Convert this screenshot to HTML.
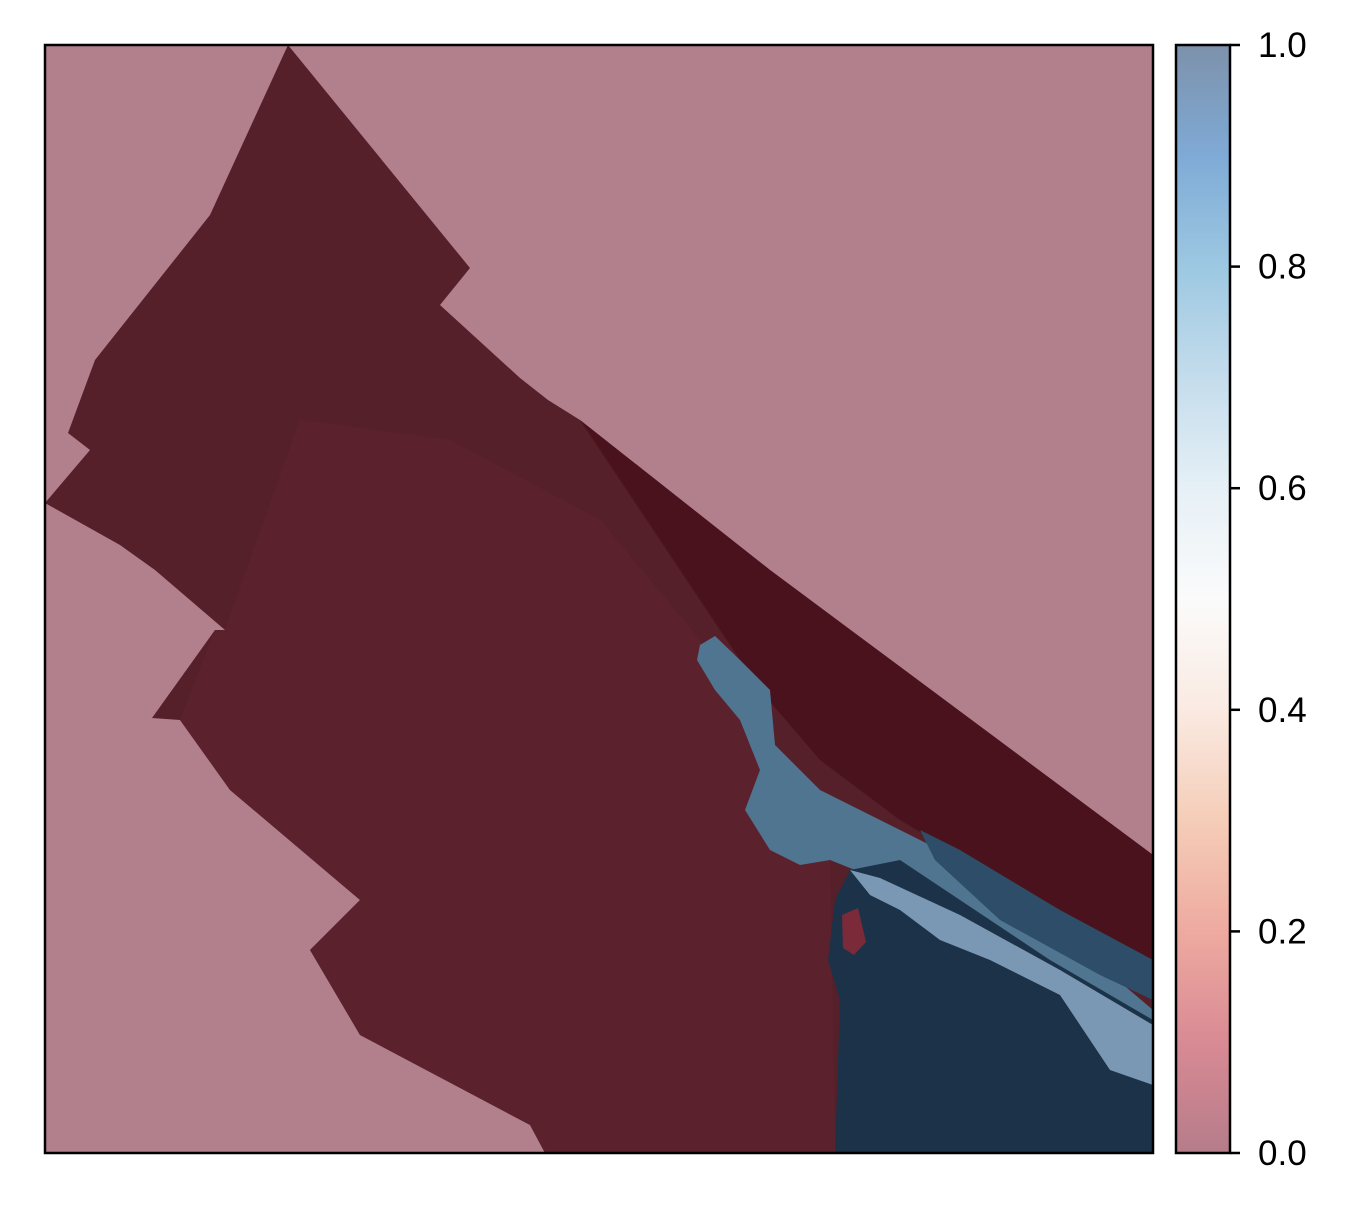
<!DOCTYPE html>
<html><head><meta charset="utf-8"><style>
body{margin:0;background:#fff;}
svg text{font-family:"Liberation Sans",sans-serif;font-size:35px;fill:#000;}
</style></head><body>
<svg width="1356" height="1208" viewBox="0 0 1356 1208">
<defs>
<linearGradient id="cb" x1="0" y1="1" x2="0" y2="0">
<stop offset="0" stop-color="#b67c8a"/>
<stop offset="0.1" stop-color="#d98a94"/>
<stop offset="0.2" stop-color="#eeaaa0"/>
<stop offset="0.3" stop-color="#f5cdb8"/>
<stop offset="0.4" stop-color="#faeae2"/>
<stop offset="0.5" stop-color="#fbfbfb"/>
<stop offset="0.6" stop-color="#e6f0f6"/>
<stop offset="0.7" stop-color="#c4dcec"/>
<stop offset="0.8" stop-color="#9cc8e2"/>
<stop offset="0.9" stop-color="#7faad6"/>
<stop offset="1" stop-color="#7d91ab"/>
</linearGradient>
<clipPath id="plotclip"><rect x="45" y="45" width="1108" height="1108"/></clipPath>
</defs>
<g clip-path="url(#plotclip)">
<rect x="45" y="45" width="1108" height="1108" fill="#b27f8c"/>
<polygon fill="#56202b" points="45,503 90,450 68,433 95,360 210,215 288,45 470,268 440,305 520,378 548,400 580,420 770,570 1153,855 1153,1153 545,1153 530,1125 360,1035 310,950 360,900 230,790 180,720 152,718 215,630 225,630 155,570 120,545"/>
<polygon fill="#5e232f" opacity="0.7" points="300,420 450,440 600,520 700,640 760,760 830,860 835,1153 545,1153 530,1125 360,1035 310,950 360,900 230,790 180,720 215,630 225,630"/>
<polygon fill="#4a121c" points="580,420 770,570 1153,855 1153,960 1000,880 900,820 820,760 760,690 700,600"/>
<polygon fill="#4f7591" points="700,645 715,636 740,660 770,690 775,745 820,790 900,830 1000,880 1153,1010 1153,1035 1100,1010 1000,960 880,880 830,860 800,865 770,850 745,810 760,770 740,720 715,690 697,660"/>
<polygon fill="#2d4d68" points="920,830 960,850 1060,910 1153,960 1153,1000 1100,975 1000,920 935,860"/>
<polygon fill="#1c3249" points="835,1153 840,1000 828,960 835,900 850,870 900,860 960,900 1050,960 1153,1020 1153,1153"/>
<polygon fill="#7a98b3" points="850,870 880,878 960,915 1060,970 1153,1025 1153,1085 1110,1070 1060,995 990,960 940,940 900,910 870,895"/>
<polygon fill="#7a2a38" points="842,915 858,908 866,942 854,955 843,948"/>
</g>
<rect x="45" y="45" width="1108" height="1108" fill="none" stroke="#000" stroke-width="2.5"/>
<g>
<rect x="1176" y="45" width="54" height="1108" fill="url(#cb)" stroke="#000" stroke-width="2.5"/>
<g id="ticks"></g>
</g>
<script>
const tickValues=[0,0.2,0.4,0.6,0.8,1.0];
const tickLabels=["0.0","0.2","0.4","0.6","0.8","1.0"];
const g=document.getElementById('ticks');
const ns='http://www.w3.org/2000/svg';
function yOf(v){return 1153-v*1108;}
tickValues.forEach((v,i)=>{
 const y=yOf(v);
 const l=document.createElementNS(ns,'line');
 l.setAttribute('x1',1230);l.setAttribute('x2',1240);l.setAttribute('y1',y);l.setAttribute('y2',y);
 l.setAttribute('stroke','#000');l.setAttribute('stroke-width','2.5');
 
 
 g.appendChild(l);
 const t=document.createElementNS(ns,'text');
 t.setAttribute('x',1258);t.setAttribute('y',y+12);
 t.textContent=tickLabels[i];
 
 
 g.appendChild(t);
});
</script>
</svg>
</body></html>
